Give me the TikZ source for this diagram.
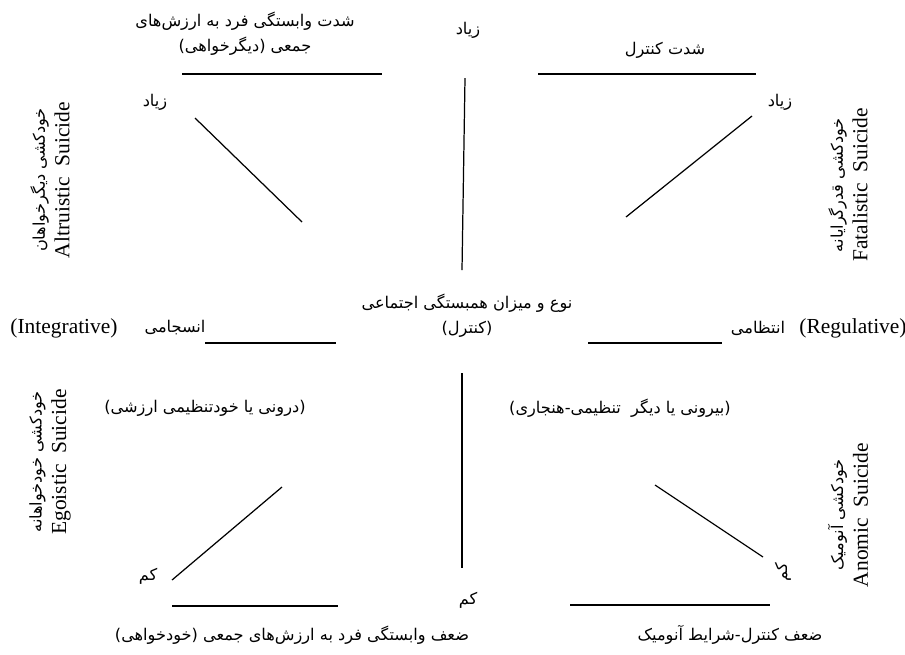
\documentclass[tikz,border=0pt]{standalone}
\usepackage{fontspec}
\setmainfont{Liberation Serif}
\newfontfamily\farsi[Script=Arabic]{DejaVu Sans}
\TeXXeTstate=1
\usetikzlibrary{positioning}
\newcommand{\fa}[1]{{\farsi\beginR #1\endR}}

\begin{document}
\begin{tikzpicture}[x=0.02cm, y=-0.02cm,
    font=\fontsize{12.2}{14}\selectfont,
    fatext/.style={font=\fontsize{9.2}{14}\selectfont, inner sep=1pt, align=center},
    sidetext/.style={rotate=90, align=center, inner sep=1pt,
                     font=\fontsize{12.2}{14}\selectfont},
    axisline/.style={line width=0.7pt}]
    \useasboundingbox (0,0) rectangle (905,654);
    % titles top
    \node[fatext] (tltitle) at (245,34)
      {\fa{شدت وابستگی فرد به ارزش‌های}\\\fa{جمعی (دیگرخواهی)}};
    \node[fatext] (trtitle) at (665,50) {\fa{شدت کنترل}};
    \node[fatext] (topmax) at (468,30) {\fa{زیاد}};
    \node[fatext] (tlmax) at (155,102) {\fa{زیاد}};
    \node[fatext] (trmax) at (780,102) {\fa{زیاد}};
    \draw[axisline] (182,74) -- (382,74);
    \draw[axisline] (538,74) -- (756,74);
    \draw[axisline] (195,118) -- (302,222);
    \draw[axisline] (752,116) -- (626,217);
    \draw[axisline] (465,78) -- (462,270);
    % side labels
    \node[sidetext] (altru) at (50,180)
      {{\fontsize{9.2}{14}\selectfont\fa{خودکشی دیگرخواهان}}\\Altruistic~~Suicide};
    \node[sidetext] (fatal) at (848,185)
      {{\fontsize{9.2}{14}\selectfont\fa{خودکشی قدرگرایانه}}\\Fatalistic~~Suicide};
    \node[sidetext] (ego) at (50,462)
      {{\fontsize{9.2}{14}\selectfont\fa{خودکشی خودخواهانه}}\\Egoistic~~Suicide};
    \node[sidetext] (anom) at (848,515)
      {{\fontsize{9.2}{14}\selectfont\fa{خودکشی آنومیک}}\\Anomic~~Suicide};
    % middle
    \node[fatext] (centre) at (467,316)
      {\fa{نوع و میزان همبستگی اجتماعی}\\\fa{(کنترل)}};
    \node (integ) at (64,328) {(Integrative)};
    \node[fatext] (integfa) at (175,328) {\fa{انسجامی}};
    \node[fatext] (regulfa) at (758,328) {\fa{انتظامی}};
    \node (regul) at (853,328) {(Regulative)};
    \draw[axisline] (205,343) -- (336,343);
    \draw[axisline] (588,343) -- (722,343);
    \node[fatext] (inner) at (205,408) {\fa{(درونی یا خودتنظیمی ارزشی)}};
    \node[fatext] (outer) at (620,408) {\fa{(بیرونی یا دیگر\ \ تنظیمی-هنجاری)}};
    % bottom
    \draw[axisline] (462,373) -- (462,568);
    \draw[axisline] (282,487) -- (172,580);
    \draw[axisline] (655,485) -- (763,557);
    \node[fatext] (blmin) at (148,576) {\fa{کم}};
    \node[fatext, rotate=90] (brmin) at (783,572) {\fa{کم}};
    \node[fatext] (botmin) at (468,600) {\fa{کم}};
    \draw[axisline] (172,606) -- (338,606);
    \draw[axisline] (570,605) -- (770,605);
    \node[fatext] (bltitle) at (292,635)
      {\fa{ضعف وابستگی فرد به ارزش‌های جمعی (خودخواهی)}};
    \node[fatext] (brtitle) at (730,635) {\fa{ضعف کنترل-شرایط آنومیک}};
\end{tikzpicture}
\end{document}
